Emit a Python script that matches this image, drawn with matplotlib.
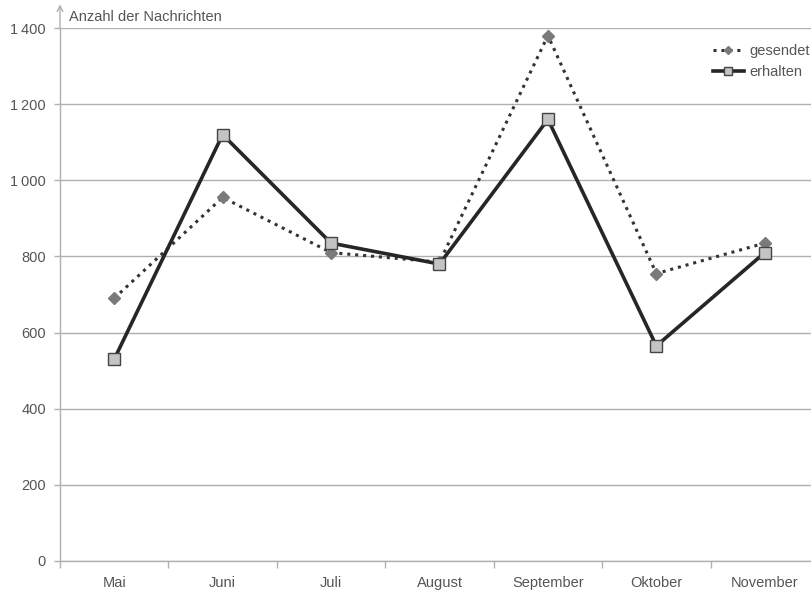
import matplotlib.pyplot as plt
import numpy as np

plt.rcParams['font.family'] = ['Liberation Sans', 'DejaVu Sans']

# Monthly message counts
months = ['Mai', 'Juni', 'Juli', 'August', 'September', 'Oktober', 'November']
sent = [690, 955, 810, 785, 1380, 755, 835]
received = [530, 1120, 835, 780, 1160, 565, 810]
y_ticks = [0, 200, 400, 600, 800, 1000, 1200, 1400]
y_tick_labels = ['0', '200', '400', '600', '800',
                 '1\u2009000', '1\u2009200', '1\u2009400']

text_color = '#555555'
grid_color = '#b0b0b0'
fs = 10.5

fig = plt.figure(figsize=(8.12, 5.92), dpi=100)
ax = fig.add_axes([0.0739, 0.0524, 0.9347, 0.9003])

x = np.arange(len(months))

ax.plot(x, sent, linestyle=(0, (1, 1.6)), color='#333333', linewidth=2.2,
        marker='D', markersize=6, markerfacecolor='#7a7a7a',
        markeredgecolor='#7a7a7a', label='gesendet', zorder=3)
ax.plot(x, received, linestyle='-', color='#262626', linewidth=2.6,
        marker='s', markersize=8.5, markerfacecolor='#c4c4c4',
        markeredgecolor='#444444', markeredgewidth=1.0,
        label='erhalten', zorder=4)

ax.set_xlim(-0.5, len(months) - 0.5)
ax.set_ylim(0, 1400)

# category labels in the middle, tick marks on the boundaries
ax.set_xticks(x)
ax.set_xticklabels(months, color=text_color, fontsize=fs)
ax.tick_params(axis='x', which='major', length=0, pad=11)
ax.set_xticks(np.arange(-0.5, len(months), 1.0), minor=True)
ax.tick_params(axis='x', which='minor', length=5, color=grid_color, width=1)

ax.set_yticks(y_ticks)
ax.set_yticklabels(y_tick_labels, color=text_color, fontsize=fs)
ax.tick_params(axis='y', length=4, color=grid_color, width=1, pad=6)

ax.grid(axis='y', color=grid_color, linewidth=1)
ax.set_axisbelow(True)

for side in ['top', 'right']:
    ax.spines[side].set_visible(False)
for side in ['left', 'bottom']:
    ax.spines[side].set_color(grid_color)
    ax.spines[side].set_linewidth(1)

# arrow on top of the y axis
ax.annotate('', xy=(-0.5, 1462), xytext=(-0.5, 1400), xycoords='data',
            arrowprops=dict(arrowstyle='->', color=grid_color, lw=1,
                            shrinkA=0, shrinkB=0), annotation_clip=False)
ax.text(-0.42, 1428, 'Anzahl der Nachrichten', color=text_color,
        fontsize=fs, ha='left', va='center', clip_on=False)

leg = fig.legend(loc='upper left', bbox_to_anchor=(713 / 812, 1 - 44 / 592),
                 frameon=False, fontsize=fs, handlelength=2.1,
                 handletextpad=0.4, labelspacing=0.5, borderaxespad=0,
                 borderpad=0, markerscale=0.7)
for t in leg.get_texts():
    t.set_color(text_color)

fig.savefig('out.png', dpi=100)
